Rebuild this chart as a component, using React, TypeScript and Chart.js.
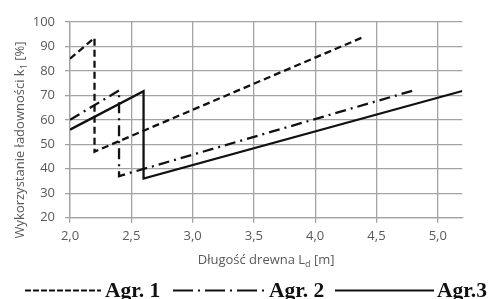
import React, { useEffect, useRef } from "react";
import { Chart, registerables } from "chart.js";

Chart.register(...registerables);

const agr1X = [2.0, 2.2, 2.2, 4.4];
const agr1Y = [85, 93.5, 47, 94];
const agr2X = [2.0, 2.4, 2.4, 4.8];
const agr2Y = [60, 72, 37, 72];
const agr3X = [2.0, 2.6, 2.6, 5.2];
const agr3Y = [56, 71.7, 36, 71.8];

const seriesNames = ["Agr. 1", "Agr. 2", "Agr.3"];
const xTitle = ["Długość drewna L", "d", " [m]"];
const yTitle = ["Wykorzystanie ładowności k", "1", " [%]"];

const AXIS_FONT = "'Open Sans', sans-serif";
const GRID = "#a3a3a3";
const TEXT = "#595959";

const toPts = (xs: number[], ys: number[]) => xs.map((x, i) => ({ x, y: ys[i] }));

function drawSub(ctx: CanvasRenderingContext2D, parts: string[], size: number) {
  const main = `${size}px ${AXIS_FONT}`;
  const sub = `${Math.round(size * 0.7)}px ${AXIS_FONT}`;
  ctx.font = main;
  const w0 = ctx.measureText(parts[0]).width;
  const w2 = ctx.measureText(parts[2]).width;
  ctx.font = sub;
  const w1 = ctx.measureText(parts[1]).width;
  const total = w0 + w1 + w2;
  let x = -total / 2;
  ctx.textAlign = "left";
  ctx.textBaseline = "alphabetic";
  ctx.font = main;
  ctx.fillText(parts[0], x, size * 0.35);
  x += w0;
  ctx.font = sub;
  ctx.fillText(parts[1], x, size * 0.35 + size * 0.25);
  x += w1;
  ctx.font = main;
  ctx.fillText(parts[2], x, size * 0.35);
}

const decorPlugin = {
  id: "decor",
  afterDraw(chart: any) {
    const ctx = chart.ctx as CanvasRenderingContext2D;
    const area = chart.chartArea;
    ctx.save();
    ctx.fillStyle = TEXT;
    // x title
    ctx.save();
    ctx.translate((area.left + area.right) / 2, 259.5);
    drawSub(ctx, xTitle, 13);
    ctx.restore();
    // y title
    ctx.save();
    ctx.translate(19, 140);
    ctx.rotate(-Math.PI / 2);
    drawSub(ctx, yTitle, 13);
    ctx.restore();

    // legend
    const ly = 290.5;
    ctx.strokeStyle = "#111";
    ctx.lineWidth = 2;
    const segs = [
      { x0: 25, x1: 101, dash: [6, 2], tx: 105 },
      { x0: 173, x1: 267, dash: [20, 5, 2, 5], tx: 269 },
      { x0: 335, x1: 434, dash: [], tx: 437 },
    ];
    segs.forEach((s, i) => {
      ctx.setLineDash(s.dash);
      ctx.beginPath();
      ctx.moveTo(s.x0, ly);
      ctx.lineTo(s.x1, ly);
      ctx.stroke();
      ctx.setLineDash([]);
      ctx.fillStyle = "#111";
      ctx.font = "bold 21.5px 'Liberation Serif', serif";
      ctx.textAlign = "left";
      ctx.textBaseline = "alphabetic";
      ctx.fillText(seriesNames[i], s.tx, 296.5);
    });
    ctx.restore();
  },
};

export default function App() {
  const ref = useRef<HTMLCanvasElement>(null);
  useEffect(() => {
    if (!ref.current) return;
    const mk = (label: string, xs: number[], ys: number[], dash: number[]) => ({
      label,
      data: toPts(xs, ys),
      showLine: true,
      borderColor: "#111",
      backgroundColor: "#111",
      borderWidth: 2.3,
      borderDash: dash,
      pointRadius: 0,
      tension: 0,
    });
    const chart = new Chart(ref.current, {
      type: "scatter",
      data: {
        datasets: [
          mk(seriesNames[0], agr1X, agr1Y, [7, 4]),
          mk(seriesNames[1], agr2X, agr2Y, [11, 5, 2, 5]),
          mk(seriesNames[2], agr3X, agr3Y, []),
        ],
      },
      options: {
        animation: false,
        responsive: false,
        maintainAspectRatio: false,
        layout: { padding: { left: 0, top: 22, right: 28.7, bottom: 51.3 } },
        plugins: { legend: { display: false }, tooltip: { enabled: false } },
        scales: {
          x: {
            type: "linear",
            min: 2.0,
            max: 5.2,
            afterFit: (s: any) => {
              s.height = 30;
            },
            ticks: {
              stepSize: 0.5,
              includeBounds: false,
              color: TEXT,
              font: { family: AXIS_FONT, size: 13 },
              padding: 6,
              maxRotation: 0,
              callback: (v: any) => Number(v).toFixed(1).replace(".", ","),
            },
            grid: { color: GRID, lineWidth: 1.3, tickLength: 5, tickColor: GRID },
            border: { color: GRID, width: 1.3 },
          },
          y: {
            min: 20,
            max: 100,
            afterFit: (s: any) => {
              s.width = 70;
            },
            ticks: {
              stepSize: 10,
              color: TEXT,
              font: { family: AXIS_FONT, size: 13 },
              padding: 10,
            },
            grid: { color: GRID, lineWidth: 1.3, tickLength: 5, tickColor: GRID },
            border: { color: GRID, width: 1.3 },
          },
        },
      },
      plugins: [decorPlugin],
    });
    return () => chart.destroy();
  }, []);
  return (
    <canvas
      ref={ref}
      width={491}
      height={299}
      style={{ position: "fixed", left: 0, top: 0, width: 491, height: 299, background: "#fff" }}
    />
  );
}
